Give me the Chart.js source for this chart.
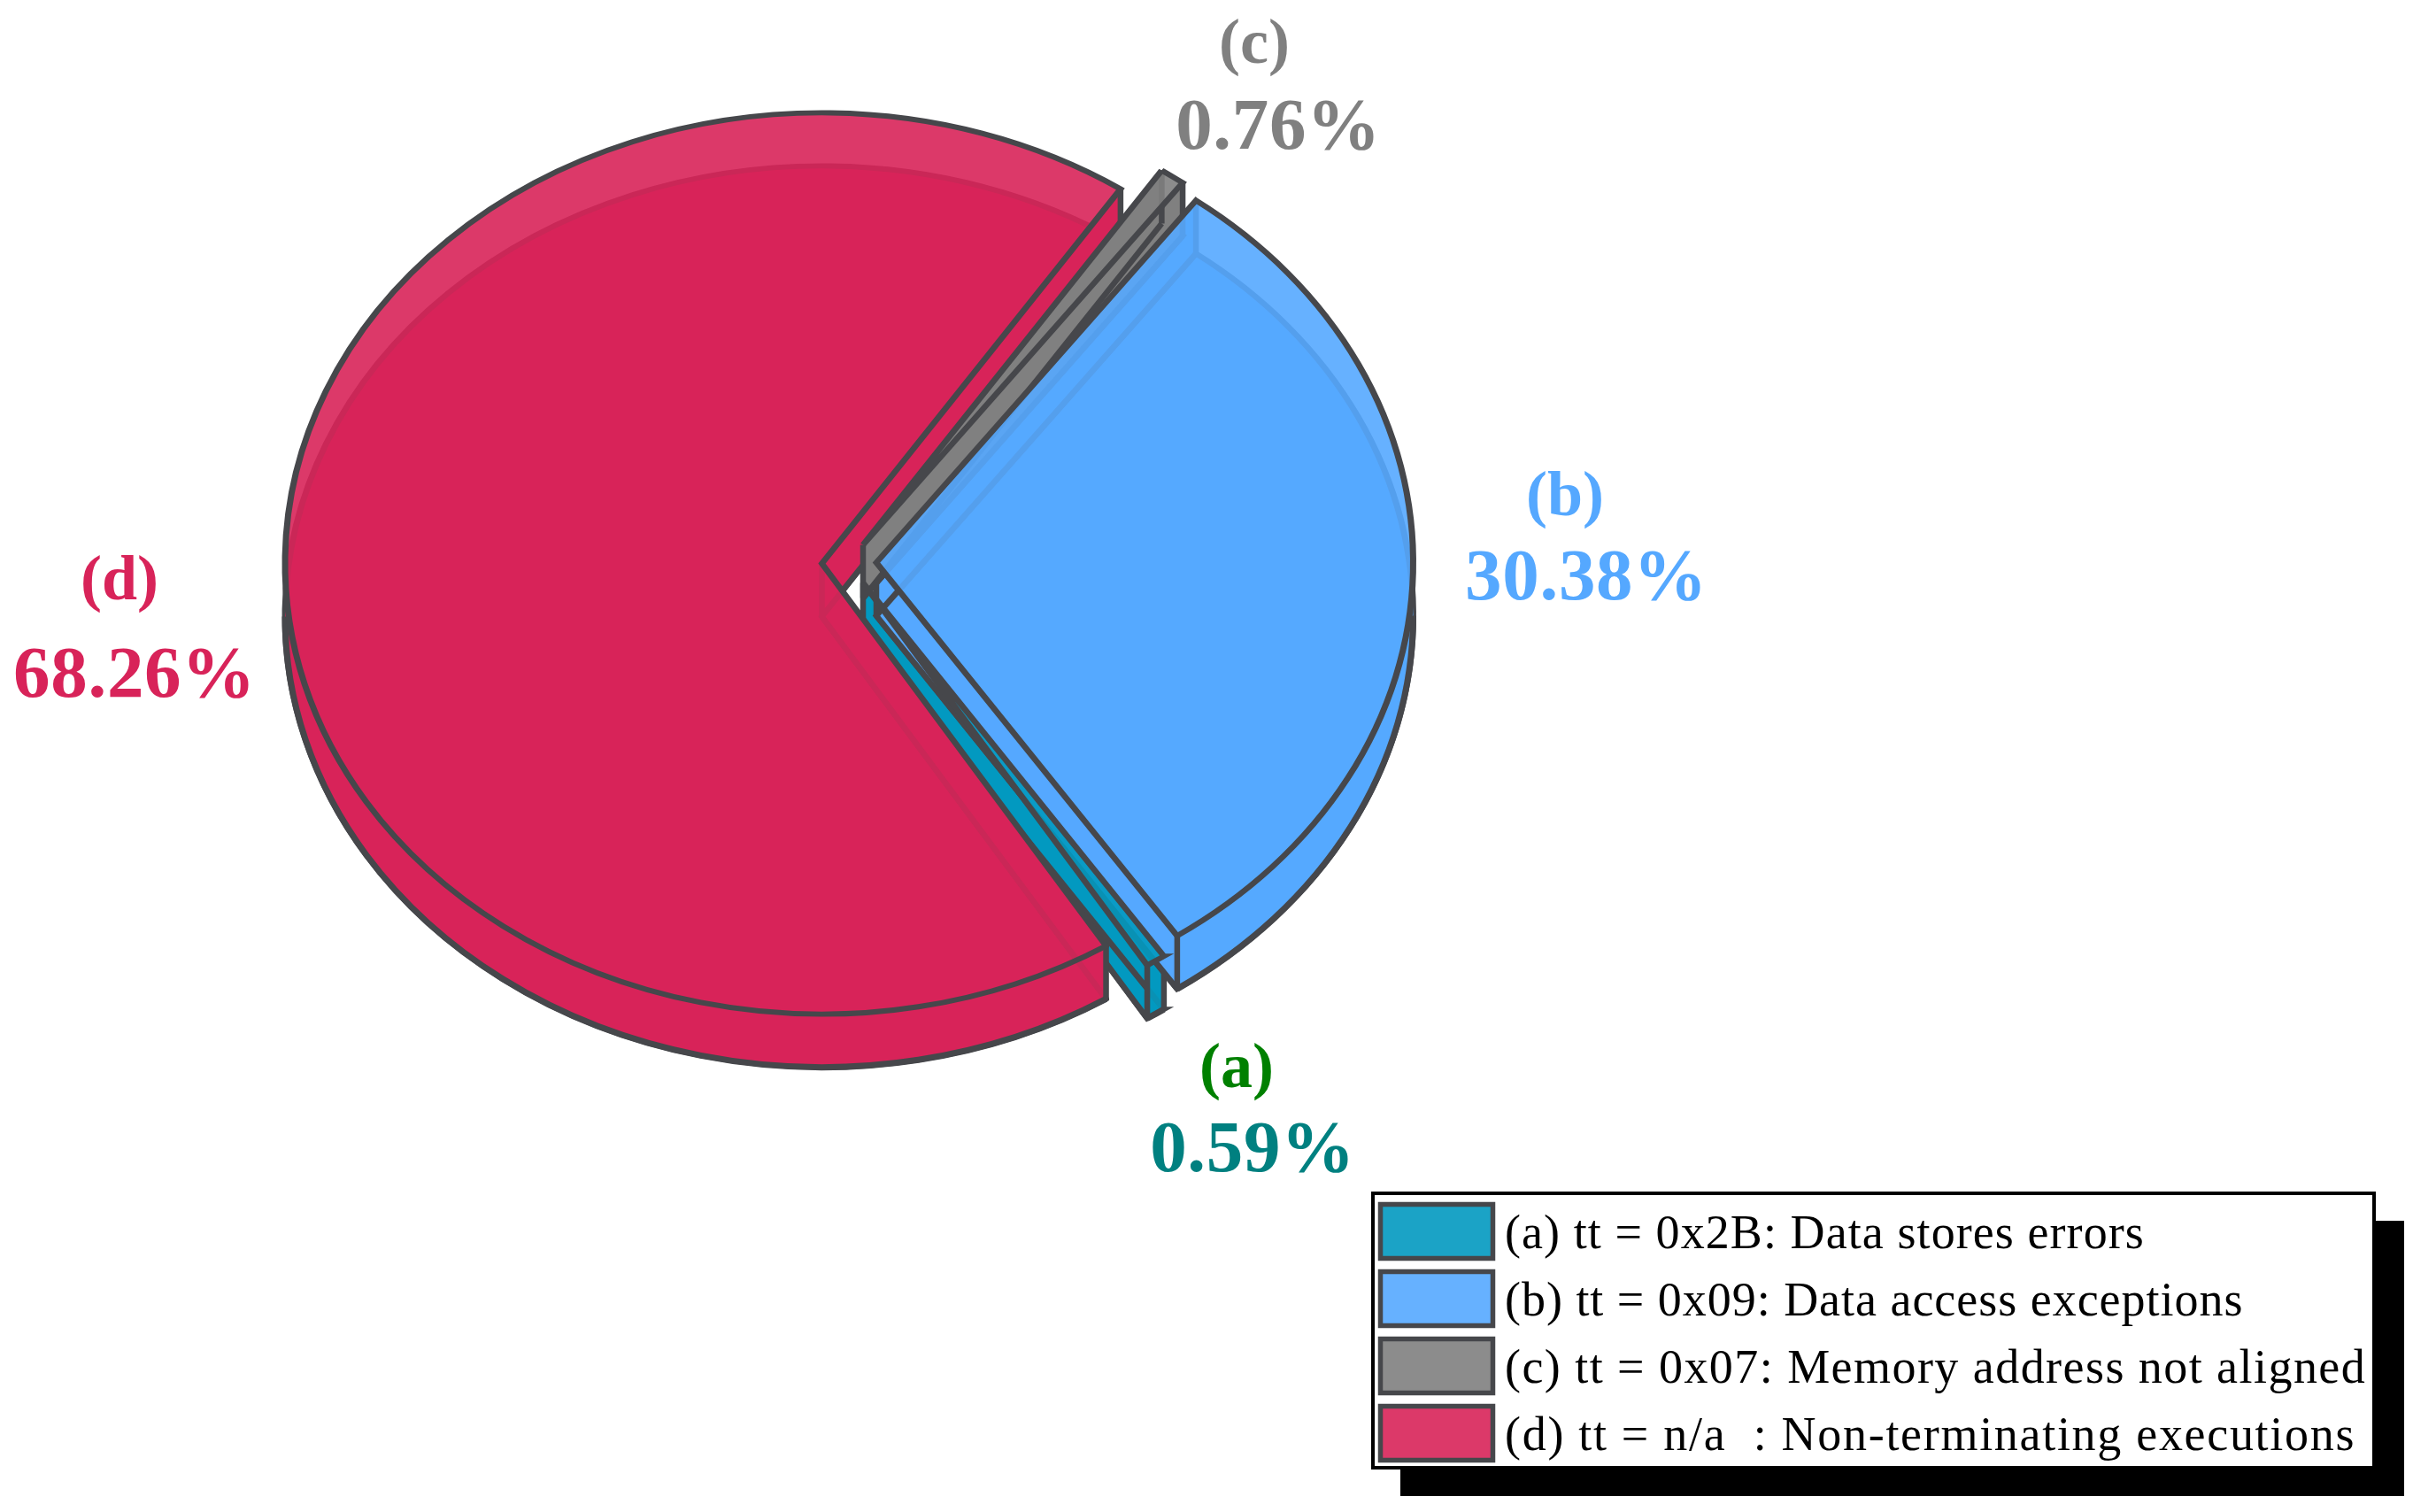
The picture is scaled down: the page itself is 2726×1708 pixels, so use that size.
<!DOCTYPE html>
<html>
<head>
<meta charset="utf-8">
<style>html,body{margin:0;padding:0;background:#fff}canvas{display:block}</style>
<script src="https://cdn.jsdelivr.net/npm/chart.js@4"></script>
</head>
<body>
<canvas id="c" width="2726" height="1708"></canvas>
<script>
// Data, in clockwise drawing order from the upper-right of the pie
const categories = [
  "(c) tt = 0x07: Memory address not aligned",
  "(b) tt = 0x09: Data access exceptions",
  "(a) tt = 0x2B: Data stores errors",
  "(d) tt = n/a  : Non-terminating executions"
];
const shares = [0.76, 30.38, 0.59, 68.26];
const letters = ["(c)", "(b)", "(a)", "(d)"];
const shareTexts = ["0.76%", "30.38%", "0.59%", "68.26%"];

// Style
const solidColors = ["#808080", "#55a8ff", "#0299c0", "#d82359"];
const faceColors = ["rgba(128,128,128,.9)", "rgba(85,168,255,.9)", "rgba(2,153,192,.9)", "rgba(216,35,89,.9)"];
const letterColors = ["#808080", "#55a8ff", "#008000", "#d82359"];
const shareColors = ["#808080", "#55a8ff", "#008080", "#d82359"];
const edge = "#46474b";
const CX = 928.5, CY = 636.5, RX = 610, RY = 512, DEPTH = 60, K = RY / RX;
// explode displacement of each slice, screen px
const explode = [[46.5, -21], [61.5, -1], [46.5, 22], [0, 0]];
// label anchors: [centre x, letter baseline, share centre x, share baseline]
const labelAnchors = [
  [1417, 71, 1444, 168],
  [1768, 582, 1792, 677],
  [1397, 1228, 1415, 1323],
  [135, 677, 152, 787]
];
// legend text tracking per row, to fit the reference line widths
const legendTracking = { a: "1.08px", b: "0.98px", c: "1.45px", d: "1.7px" };

const pie3d = {
  id: "pie3d",
  beforeDraw(chart) {
    const c = chart.ctx;
    c.save();
    c.fillStyle = "#fff"; c.fillRect(0, 0, 2726, 1708);
    c.fillStyle = "#000"; c.fillRect(1582, 1379, 1134, 311);
    c.fillStyle = "#fff"; c.strokeStyle = "#000"; c.lineWidth = 4;
    c.fillRect(1551, 1348, 1131, 310); c.strokeRect(1551, 1348, 1131, 310);
    c.restore();
    const lg = chart.legend;
    lg.left = 1544.5; lg.top = 1345.5; lg.right = 2726; lg.bottom = 1708;
    // nudge the legend's text relative to its swatches
    const proto = CanvasRenderingContext2D.prototype.fillText;
    c.fillText = function (t, x, y) {
      this.letterSpacing = legendTracking[t.charAt(1)] || "0px";
      return proto.call(this, t, x - 13.5, y + 5);
    };
  },
  afterDatasetsUpdate(chart) {
    chart.getDatasetMeta(0).data.forEach((el, i) => {
      el.x += explode[i][0];
      el.y += explode[i][1] / K;
    });
  },
  beforeDatasetsDraw(chart) {
    const c = chart.ctx, arcs = chart.getDatasetMeta(0).data;
    c.letterSpacing = "0px";
    delete c.fillText;
    const order = [2, 3, 1, 0];
    const toScreen = (el, a, r) => [el.x + r * Math.cos(a), CY + (el.y - CY + r * Math.sin(a)) * K];
    const norm = a => { let x = a % (2 * Math.PI); if (x < -Math.PI / 2) x += 2 * Math.PI; return x; };
    c.save();
    for (const i of order) {
      const el = arcs[i], o = el.options;
      // lower copy of the slice, opaque
      c.save();
      c.translate(CX, CY + DEPTH); c.scale(1, K); c.translate(-CX, -CY);
      el.options = Object.assign(Object.create(o), { backgroundColor: solidColors[i] });
      el.draw(c);
      el.options = o;
      c.restore();
      const apex = toScreen(el, 0, 0);
      const tipA = toScreen(el, el.startAngle, el.outerRadius);
      const tipB = toScreen(el, el.endAngle, el.outerRadius);
      // side walls along the two straight edges
      c.fillStyle = solidColors[i];
      for (const t of [tipA, tipB]) {
        c.beginPath();
        c.moveTo(apex[0], apex[1]); c.lineTo(t[0], t[1]);
        c.lineTo(t[0], t[1] + DEPTH); c.lineTo(apex[0], apex[1] + DEPTH);
        c.closePath(); c.fill();
      }
      c.strokeStyle = edge; c.lineWidth = 6.5; c.lineJoin = "miter"; c.beginPath();
      for (const t of [tipA, tipB]) {
        c.moveTo(apex[0], apex[1] + DEPTH); c.lineTo(t[0], t[1] + DEPTH);
      }
      c.moveTo(apex[0], apex[1]); c.lineTo(apex[0], apex[1] + DEPTH);
      c.stroke();
      // front rim wall, faintly covering what lies behind it
      const a0 = Math.max(norm(el.startAngle), 0), a1 = Math.min(norm(el.endAngle), Math.PI);
      if (a1 > a0) {
        const ey = apex[1], R = el.outerRadius, Ry = R * K;
        c.fillStyle = faceColors[i];
        c.beginPath();
        c.ellipse(el.x, ey, R, Ry, 0, a0, a1, false);
        c.ellipse(el.x, ey + DEPTH, R, Ry, 0, a1, a0, true);
        c.closePath(); c.fill();
        c.lineWidth = 7; c.beginPath();
        c.ellipse(el.x, ey + DEPTH, R, Ry, 0, a0, a1, false);
        c.stroke();
      }
      // vertical edges at the slice's rim ends
      c.lineWidth = 6.5; c.beginPath();
      for (const p of [tipA, tipB]) {
        c.moveTo(p[0], p[1]); c.lineTo(p[0], p[1] + DEPTH);
      }
      c.stroke();
    }
    c.restore();
    c.save();
    c.translate(CX, CY); c.scale(1, K); c.translate(-CX, -CY);
  },
  afterDatasetsDraw(chart) {
    const c = chart.ctx;
    c.restore();
    c.save();
    c.textAlign = "center"; c.textBaseline = "alphabetic";
    letters.forEach((t, i) => {
      const a = labelAnchors[i];
      c.letterSpacing = "0px";
      c.font = "bold 72px 'Liberation Serif'"; c.fillStyle = letterColors[i];
      c.fillText(t, a[0], a[1]);
      c.letterSpacing = "0.7px";
      c.font = "bold 83px 'Liberation Serif'"; c.fillStyle = shareColors[i];
      c.fillText(shareTexts[i], a[2], a[3]);
    });
    c.restore();
  }
};

new Chart(document.getElementById("c"), {
  type: "pie",
  plugins: [pie3d],
  data: {
    labels: categories,
    datasets: [{
      data: shares,
      backgroundColor: faceColors,
      borderColor: edge,
      borderWidth: 7,
      borderJoinStyle: "miter",
      clip: false
    }]
  },
  options: {
    responsive: false,
    animation: false,
    rotation: 33.8,
    layout: { padding: { left: CX - RX, right: 2726 - CX - RX, top: CY - RX, bottom: 1708 - CY - RX } },
    plugins: {
      title: { display: false },
      tooltip: { enabled: false },
      legend: {
        position: "chartArea",
        align: "start",
        labels: {
          boxWidth: 127,
          boxHeight: 61,
          padding: 15,
          color: "#000",
          font: { family: "'Liberation Serif'", size: 54, lineHeight: 1 },
          sort: (a, b) => a.text.localeCompare(b.text),
          generateLabels: chart => Chart.overrides.pie.plugins.legend.labels.generateLabels(chart).map(l => Object.assign(l, { lineWidth: 5.5 }))
        }
      }
    }
  }
});
</script>
</body>
</html>
